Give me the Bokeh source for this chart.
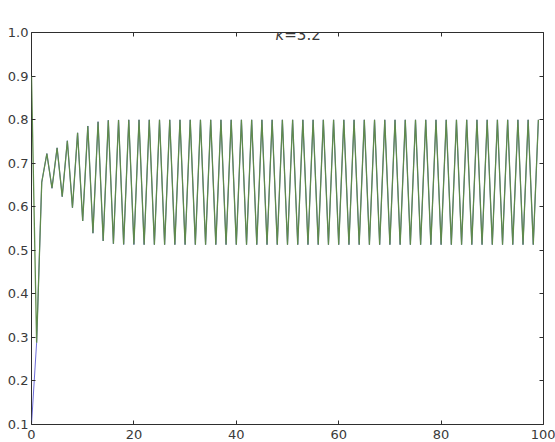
from bokeh.plotting import figure
from bokeh.models import (LinearAxis, Range1d, FixedTicker, PrintfTickFormatter,
                          CustomLabelingPolicy, GridBox)
from bokeh.core.properties import value
from bokeh.embed import file_html
from bokeh.resources import INLINE

# logistic-map orbit for k = 3.2 (indices 0..99)
steps = list(range(100))
orbit_blue = [
    0.1000, 0.2880, 0.6562, 0.7219, 0.6424, 0.7351, 0.6231, 0.7515, 0.5975, 0.7696,
    0.5675, 0.7854, 0.5393, 0.7951, 0.5214, 0.7985, 0.5148, 0.7993, 0.5133, 0.7994,
    0.5131, 0.7995, 0.5130, 0.7995, 0.5130, 0.7995, 0.5130, 0.7995, 0.5130, 0.7995,
    0.5130, 0.7995, 0.5130, 0.7995, 0.5130, 0.7995, 0.5130, 0.7995, 0.5130, 0.7995,
    0.5130, 0.7995, 0.5130, 0.7995, 0.5130, 0.7995, 0.5130, 0.7995, 0.5130, 0.7995,
    0.5130, 0.7995, 0.5130, 0.7995, 0.5130, 0.7995, 0.5130, 0.7995, 0.5130, 0.7995,
    0.5130, 0.7995, 0.5130, 0.7995, 0.5130, 0.7995, 0.5130, 0.7995, 0.5130, 0.7995,
    0.5130, 0.7995, 0.5130, 0.7995, 0.5130, 0.7995, 0.5130, 0.7995, 0.5130, 0.7995,
    0.5130, 0.7995, 0.5130, 0.7995, 0.5130, 0.7995, 0.5130, 0.7995, 0.5130, 0.7995,
    0.5130, 0.7995, 0.5130, 0.7995, 0.5130, 0.7995, 0.5130, 0.7995, 0.5130, 0.7995,
]
orbit_green_start = [0.9000]
orbit_green = orbit_green_start + orbit_blue[1:]

x_ticks = [0, 20, 40, 60, 80, 100]
y_ticks = [0.1, 0.2, 0.3, 0.4, 0.5, 0.6, 0.7, 0.8, 0.9, 1.0]
title_k = "k"
title_rest = "=3.2"

FONT = "DejaVu Sans"
TXT = "#3a3a3a"
FRAME = "#2e2e2e"

BL, BR, BT, BB = 31, 12, 32, 18
W, H = 555, 442

# ---- main plot ----
p = figure(width=W, height=H, output_backend="svg", toolbar_location=None,
           x_range=Range1d(0, 100), y_range=Range1d(0.1, 1.0),
           min_border_left=BL, min_border_right=BR, min_border_top=BT, min_border_bottom=BB,
           x_axis_location=None, y_axis_location=None)
p.xgrid.visible = False
p.ygrid.visible = False
p.outline_line_color = FRAME
p.outline_line_width = 1

p.line(steps, orbit_blue, line_color="#5a5ad2", line_width=0.9)
p.line(steps, orbit_green, line_color="#5f8a4c", line_width=1.3)

no_labels = CustomLabelingPolicy(code="""
    const all = [...indices]
    for (const i of all) indices.unset(i)
    return indices
""")

def make_axis(ticks, labels=True):
    ax = LinearAxis(ticker=FixedTicker(ticks=ticks))
    ax.axis_line_color = None
    ax.major_tick_in = 4
    ax.major_tick_out = 0
    ax.major_tick_line_color = FRAME
    ax.minor_tick_line_color = None
    ax.major_label_text_font = FONT
    ax.major_label_text_color = TXT
    ax.major_label_text_font_size = "13px"
    if not labels:
        ax.major_label_policy = no_labels
        ax.major_label_standoff = 0
        ax.major_label_text_font_size = "1px"
    return ax

xb = make_axis(x_ticks)
xb.major_label_standoff = 5
p.add_layout(xb, "below")
yl = make_axis(y_ticks)
yl.formatter = PrintfTickFormatter(format="%.1f")
yl.major_label_standoff = 3
p.add_layout(yl, "left")
p.add_layout(make_axis(x_ticks, labels=False), "above")
p.add_layout(make_axis(y_ticks, labels=False), "right")

# ---- transparent title strip overlaid on the top border (k italic, rest upright) ----
TH = 60
t = figure(width=W, height=TH, output_backend="svg", toolbar_location=None, title=None,
           x_range=Range1d(0, W), y_range=Range1d(0, TH),
           min_border_left=0, min_border_right=0, min_border_top=0, min_border_bottom=0,
           x_axis_location=None, y_axis_location=None,
           background_fill_color=None, border_fill_color=None)
t.xgrid.visible = False
t.ygrid.visible = False
t.outline_line_color = None
t.text(x=[274], y=[TH - 12], text=[title_k], text_font=value(FONT), text_font_style="italic",
       text_font_size="15px", text_color=TXT, text_align="right", text_baseline="alphabetic")
t.text(x=[274], y=[TH - 12], text=[title_rest], text_font=value(FONT),
       text_font_size="15px", text_color=TXT, text_align="left", text_baseline="alphabetic")

layout = GridBox(children=[(p, 0, 0), (t, 0, 0)])
open("out.html", "w").write(file_html(layout, INLINE))
